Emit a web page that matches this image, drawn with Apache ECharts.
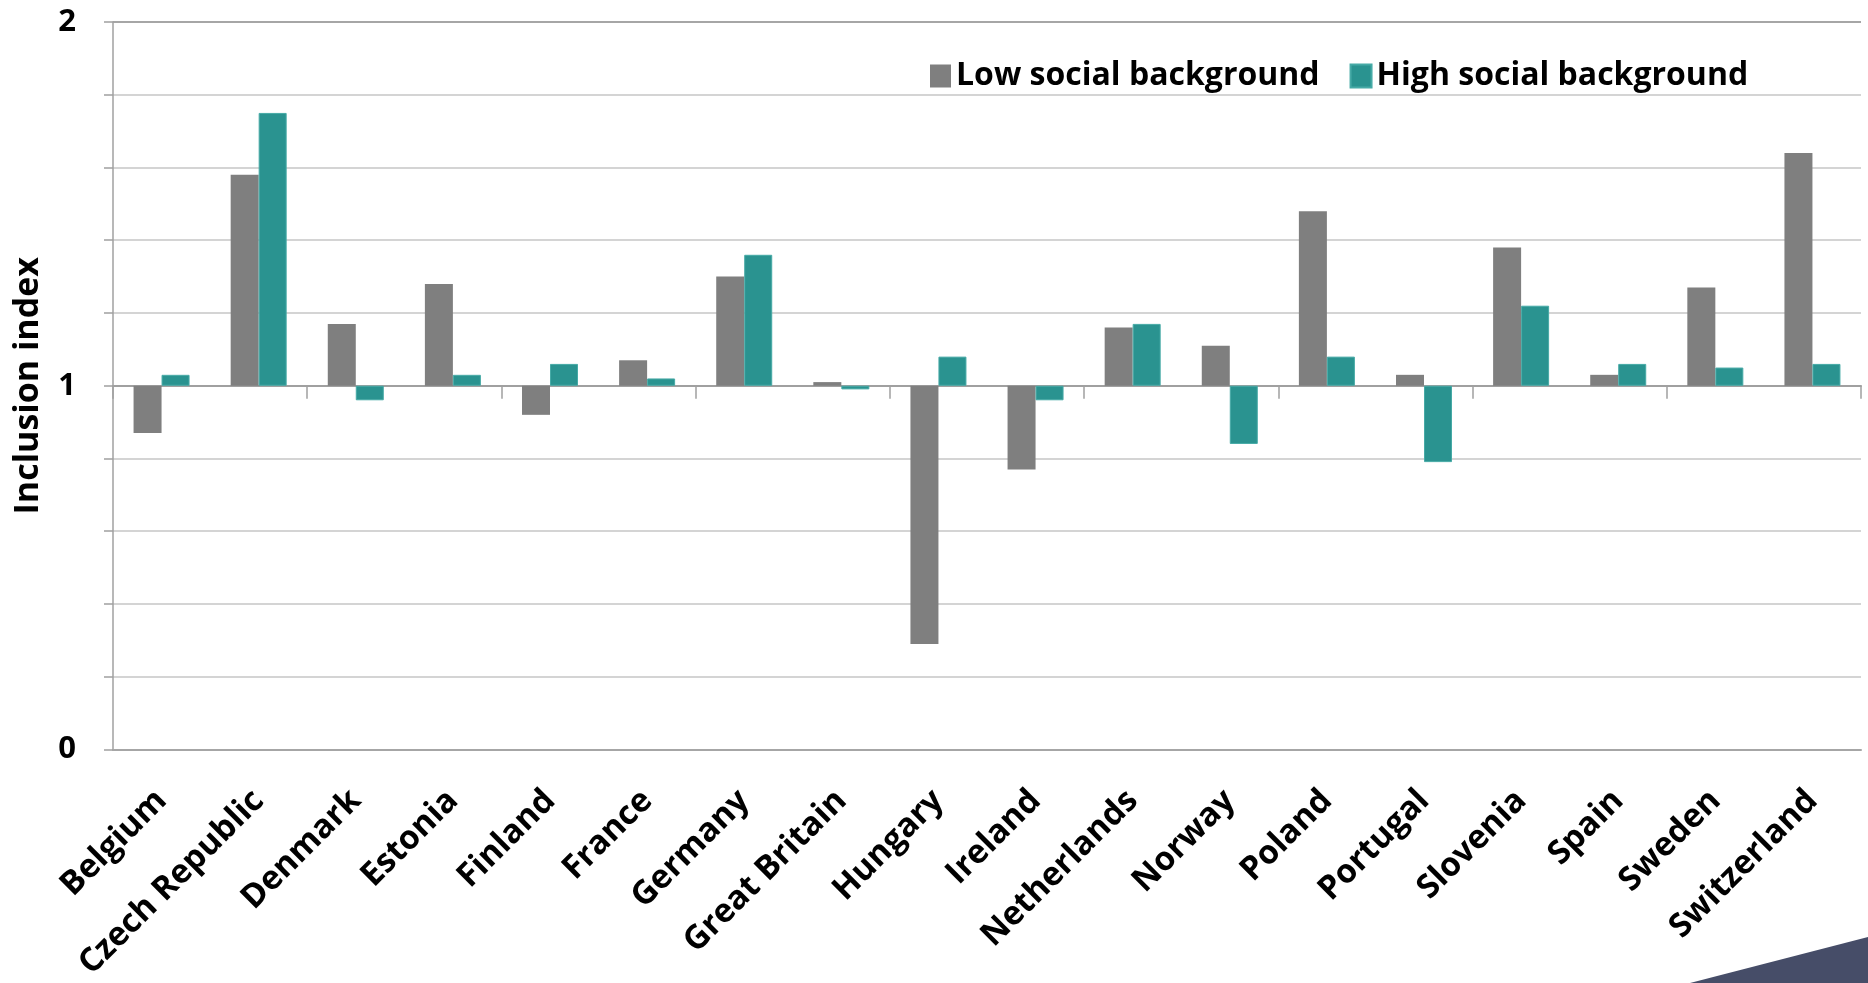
<!DOCTYPE html>
<html>
	<head>
		<meta charset="utf-8">
		<title>Inclusion index</title>
		<script src="https://cdn.jsdelivr.net/npm/echarts@6/dist/echarts.min.js"></script>
		<style>
			html, body { margin: 0; padding: 0; background: #fff; }
		</style>
	</head>
	<body>
		<div id="main" style="width: 1868px;height:983px;"></div>
		<script type="text/javascript">
			// countries on the x axis
			var countries = ['Belgium', 'Czech Republic', 'Denmark', 'Estonia', 'Finland', 'France', 'Germany',
				'Great Britain', 'Hungary', 'Ireland', 'Netherlands', 'Norway', 'Poland', 'Portugal', 'Slovenia',
				'Spain', 'Sweden', 'Switzerland'];
			// inclusion index values
			var lowSocial = [0.87, 1.58, 1.17, 1.28, 0.92, 1.07, 1.30, 1.01, 0.29, 0.77, 1.16, 1.11, 1.48, 1.03, 1.38, 1.03, 1.27, 1.64];
			var highSocial = [1.03, 1.75, 0.96, 1.03, 1.06, 1.02, 1.36, 0.99, 1.08, 0.96, 1.17, 0.84, 1.08, 0.79, 1.22, 1.06, 1.05, 1.06];
			// bars start from 1 (horizontal axis crosses at 1)
			var baseValue = 1;
			var yTickLabels = ['0', '1', '2'];

			var font = 'Open Sans';
			var myChart = echarts.init(document.getElementById('main'));

			function shift(arr) {
				return arr.map(function (v) { return Math.round((v - baseValue) * 1000) / 1000; });
			}

			option = {
				animation: false,
				backgroundColor: '#ffffff',
				legend: {
					top: 55,
					left: 925,
					icon: 'rect',
					itemWidth: 21,
					itemHeight: 23,
					itemGap: 30,
					textStyle: {
						fontFamily: font,
						fontWeight: 'bold',
						fontSize: 32,
						color: '#000'
					},
					data: ['Low social background', 'High social background']
				},
				grid: {
					left: 113,
					right: 7,
					top: 22,
					bottom: 231
				},
				xAxis: [{
					// axis line at value 1 with ticks, no labels
					type: 'category',
					data: countries,
					axisLine: { onZero: true, lineStyle: { color: '#a0a0a0', width: 2 } },
					axisTick: { show: true, length: 13, lineStyle: { color: '#a0a0a0', width: 1.5 } },
					axisLabel: { show: false }
				}, {
					// labels at the bottom
					type: 'category',
					data: countries,
					position: 'bottom',
					axisLine: { onZero: false, show: true, lineStyle: { color: '#a6a6a6', width: 2 } },
					axisTick: { show: false },
					axisLabel: {
						interval: 0,
						rotate: 45,
						margin: 46,
						fontFamily: font,
						fontWeight: 'bold',
						fontSize: 33,
						color: '#000'
					}
				}],
				yAxis: {
					type: 'value',
					min: -1,
					max: 1,
					interval: 0.2,
					name: 'Inclusion index',
					nameLocation: 'middle',
					nameGap: 68,
					nameTextStyle: {
						fontFamily: font,
						fontWeight: 'bold',
						fontSize: 34,
						color: '#000'
					},
					axisLine: { show: true, lineStyle: { color: '#a0a0a0', width: 1.5 } },
					axisTick: { show: true, length: 9, lineStyle: { color: '#a0a0a0', width: 1.5 } },
					axisLabel: {
						margin: 37,
						fontFamily: font,
						fontWeight: 'bold',
						fontSize: 31,
						color: '#000',
						formatter: function (v) {
							var real = Math.round((v + baseValue) * 1000) / 1000;
							if (Math.abs(real - Math.round(real)) < 1e-6) {
								return yTickLabels[Math.round(real)];
							}
							return '';
						}
					},
					splitLine: {
						show: true,
						lineStyle: {
							color: ['#a6a6a6', '#d4d4d4', '#d4d4d4', '#d4d4d4', '#d4d4d4', '#d4d4d4',
								'#d4d4d4', '#d4d4d4', '#d4d4d4', '#d4d4d4', '#a6a6a6'],
							width: 2
						}
					}
				},
				series: [{
						name: 'Low social background',
						type: 'bar',
						xAxisIndex: 0,
						barWidth: 28,
						barGap: '0%',
						itemStyle: { color: '#7f7f7f' },
						data: shift(lowSocial)
					},
					{
						name: 'High social background',
						type: 'bar',
						xAxisIndex: 0,
						barWidth: 28,
						barGap: '0%',
						itemStyle: { color: '#2a9390', borderColor: '#46aaa6', borderWidth: 1 },
						data: shift(highSocial)
					}
				],
				// slide decoration in the corner
				graphic: [{
					type: 'polygon',
					shape: { points: [[1690, 983], [1868, 937], [1868, 983]] },
					style: { fill: '#464d68' },
					silent: true
				}]
			};
			myChart.setOption(option);
		</script>
	</body>
</html>
